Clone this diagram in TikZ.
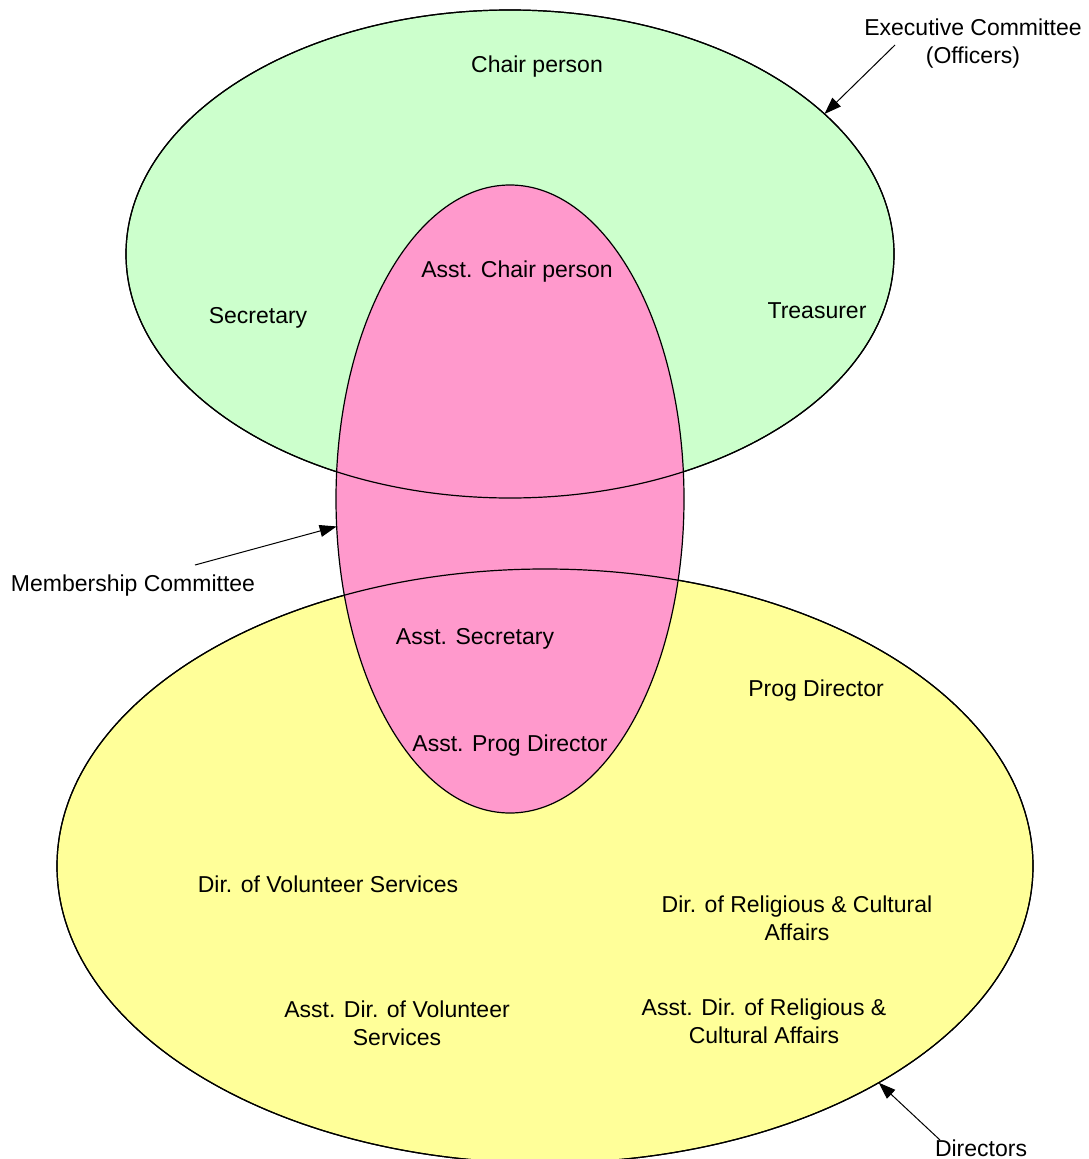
\documentclass[tikz,border=0pt]{standalone}
\usepackage{fontspec}
\setmainfont{Liberation Sans}
\usetikzlibrary{shapes.geometric,arrows.meta}
\definecolor{cgreen}{HTML}{CCFFCC}
\definecolor{cpink}{HTML}{FF99CC}
\definecolor{cyellow}{HTML}{FFFF99}
\begin{document}
\begin{tikzpicture}[x=1pt,y=-1pt,
  blob/.style={ellipse,inner sep=0pt,outer sep=0pt,line width=1.2pt},
  lbl/.style={inner sep=0pt,align=center,font=\fontsize{23}{28}\selectfont},
  pointer/.style={line width=1pt,-{Triangle[length=17pt,width=12pt]}}]
\useasboundingbox (0,0) rectangle (1089,1159);
\node[blob,fill=cgreen,draw,minimum width=768pt,minimum height=488pt] (green) at (510,254) {};
\node[blob,fill=cyellow,draw,minimum width=976pt,minimum height=594pt] (yellow) at (545,866) {};
\node[blob,fill=cpink,draw,minimum width=348pt,minimum height=628pt] (pink) at (510,499) {};
\draw[line width=1.2pt] (green.center) ellipse [x radius=384, y radius=244];
\draw[line width=1.2pt] (yellow.center) ellipse [x radius=488, y radius=297];
% labels inside
\node[lbl] (chair) at (537,67) {Chair person};
\node[lbl] (secr) at (258,318) {Secretary};
\node[lbl] (treas) at (817,311) {Treasurer};
\node[lbl] (achair) at (517,272) {Asst. Chair person};
\node[lbl] (asecr) at (475,639) {Asst. Secretary};
\node[lbl] (prog) at (816,691) {Prog Director};
\node[lbl] (aprog) at (510,746) {Asst. Prog Director};
\node[lbl] (vol) at (328,884) {Dir. of Volunteer Services};
\node[lbl] (rel) at (797,918) {Dir. of Religious \& Cultural\\Affairs};
\node[lbl] (avol) at (397,1023) {Asst. Dir. of Volunteer\\Services};
\node[lbl] (arel) at (764,1021) {Asst. Dir. of Religious \&\\Cultural Affairs};
% outside labels
\node[lbl] (exec) at (973,44) {Executive Committee\\(Officers)};
\node[lbl] (memb) at (133,586) {Membership Committee};
\node[lbl] (dirs) at (981,1148) {Directors};
\coordinate (execstart) at (895,45);
\coordinate (membstart) at (195,565);
\coordinate (dirsstart) at (940,1140);
\draw[pointer] (execstart) -- (green.24.2);
\draw[pointer] (membstart) -- (pink.189.1);
\draw[pointer] (dirsstart) -- (yellow.-33);
\end{tikzpicture}
\end{document}
